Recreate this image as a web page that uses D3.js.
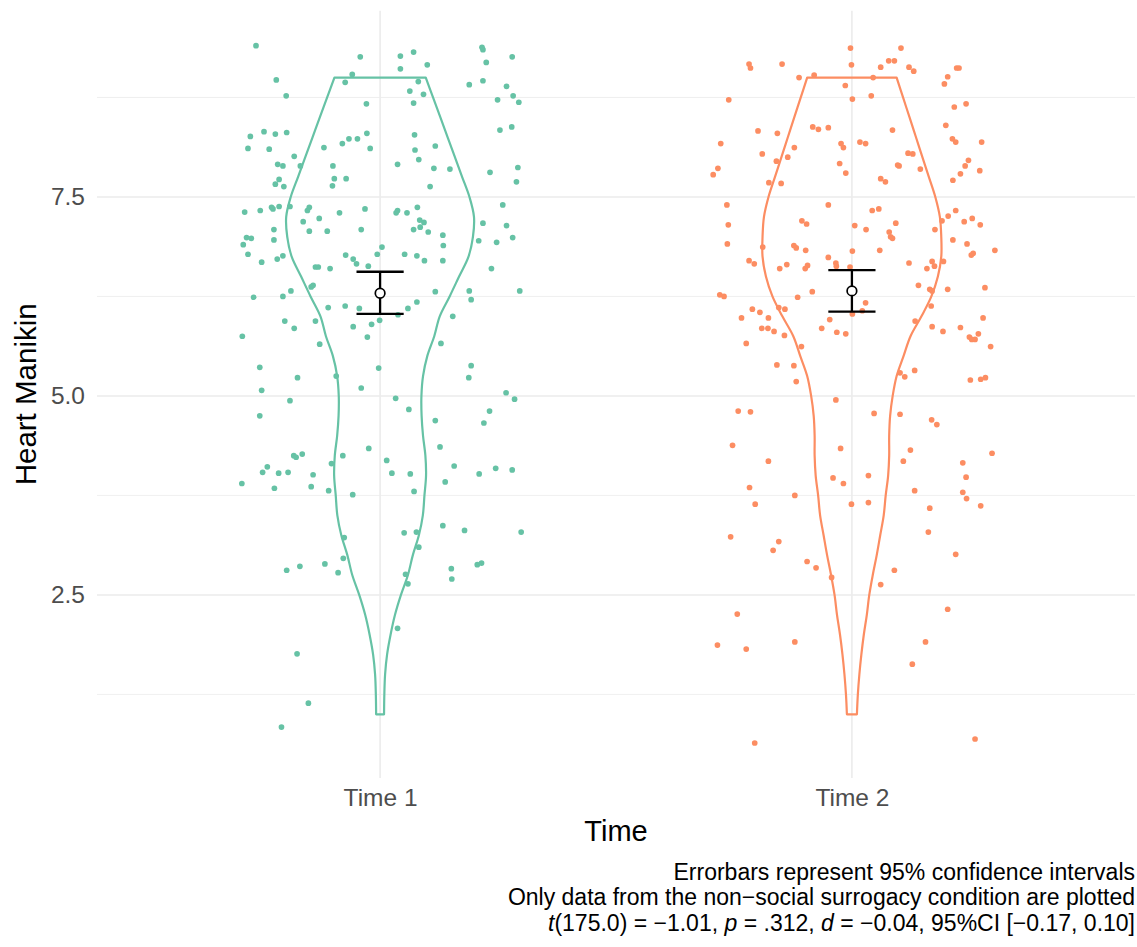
<!DOCTYPE html>
<html>
<head>
<meta charset="utf-8">
<script src="https://cdn.jsdelivr.net/npm/d3@7"></script>
<style>
  html, body { margin: 0; padding: 0; background: #fff; }
  svg { display: block; font-family: "Liberation Sans", Arial, Helvetica, sans-serif; }
</style>
</head>
<body>
<svg id="chart" width="1137" height="947"></svg>
<script>
// ---------------- data ----------------
const categories = ["Time 1", "Time 2"];
const yTicks = [2.5, 5.0, 7.5];
const yMinorTicks = [1.25, 3.75, 6.25, 8.75];
const groupColors = ["#66C2A5", "#FC8D62"];

// jittered points: values (Heart Manikin) and horizontal jitter (fraction of category step)
const time1Values = [9.40,9.26,9.27,9.32,9.16,9.11,9.38,9.35,9.26,9.19,8.97,9.04,8.94,8.95,8.91,8.96,8.89,8.77,8.72,8.69,8.77,8.67,8.83,8.79,8.68,8.26,8.32,8.29,8.31,8.11,8.10,8.12,8.17,8.23,8.23,8.30,8.11,8.28,8.09,8.14,8.38,8.34,8.01,7.91,7.89,7.89,7.89,7.91,7.97,7.86,7.85,7.81,7.87,7.72,7.66,7.63,7.73,7.73,7.64,7.63,7.69,7.31,7.33,7.37,7.35,7.38,7.38,7.37,7.33,7.19,7.23,7.30,7.35,7.33,7.30,7.30,7.37,7.21,7.18,7.12,7.09,7.06,7.02,6.89,6.70,7.40,7.17,7.14,6.99,6.93,6.95,6.60,7.09,6.96,7.07,7.07,7.09,6.99,6.98,6.90,6.78,6.68,6.72,6.76,6.62,6.62,6.60,6.77,6.72,6.66,6.63,6.78,6.87,6.78,6.76,6.70,
6.24,6.25,6.32,6.37,6.39,6.11,6.13,6.10,6.02,6.10,6.18,6.31,6.32,6.21,6.32,5.94,5.85,5.94,5.87,5.90,5.95,6.00,5.75,5.74,5.65,5.66,5.36,5.23,5.25,5.35,5.38,5.23,5.07,5.10,4.94,4.97,5.04,4.96,4.75,4.83,4.69,4.81,4.66,4.34,4.36,4.25,4.23,4.27,4.25,4.19,4.15,4.11,4.04,4.03,4.04,4.01,4.03,4.02,4.12,4.02,4.09,4.07,3.90,3.84,3.86,3.81,3.76,3.80,3.92,
3.22,3.28,3.29,3.37,3.31,3.29,3.10,2.81,2.86,2.89,2.96,2.78,2.76,2.64,2.83,2.70,2.88,2.90,2.08,1.76,1.14,0.84];
const time1Jitter = [-0.263,-0.042,0.043,0.071,0.100,0.043,0.216,0.218,0.280,0.225,-0.220,-0.059,-0.074,0.081,0.189,0.218,0.268,0.282,0.249,0.294,-0.199,-0.029,0.063,0.092,0.071,-0.275,-0.246,-0.222,-0.198,-0.280,-0.235,-0.119,-0.080,-0.066,-0.048,-0.028,-0.021,0.073,0.074,0.117,0.279,0.254,-0.182,-0.217,-0.206,-0.169,-0.100,0.037,0.082,0.114,0.148,0.233,0.292,-0.214,-0.222,-0.204,-0.097,-0.072,-0.101,0.106,0.289,-0.287,-0.254,-0.230,-0.227,-0.214,-0.191,-0.150,-0.154,-0.163,-0.129,-0.086,-0.032,0.037,0.034,0.057,0.079,0.084,0.093,0.085,0.071,0.102,0.133,0.134,0.133,0.260,0.218,0.268,0.281,0.247,0.209,0.236,-0.225,-0.225,-0.150,-0.112,-0.040,-0.283,-0.273,-0.290,-0.280,-0.251,-0.218,-0.206,-0.137,-0.131,-0.106,-0.073,-0.057,-0.050,-0.025,-0.006,0.004,0.052,0.078,0.094,
-0.268,-0.206,-0.189,-0.146,-0.142,-0.110,-0.074,-0.044,0.038,0.059,0.078,0.117,0.189,0.193,0.296,-0.202,-0.182,-0.137,-0.057,-0.018,-0.001,0.154,-0.292,-0.027,-0.128,0.129,-0.255,-0.175,-0.093,-0.003,0.193,0.188,-0.251,-0.040,-0.191,0.033,0.267,0.285,-0.255,0.061,0.117,0.232,0.220,-0.024,0.127,-0.183,-0.178,-0.165,-0.079,0.014,-0.103,-0.239,-0.249,-0.215,-0.195,-0.142,0.025,0.064,0.157,0.210,0.245,0.280,-0.293,-0.224,-0.146,-0.109,-0.058,0.072,0.138,
-0.076,0.051,0.077,0.133,0.179,0.299,0.082,-0.198,-0.170,-0.117,-0.078,-0.089,0.054,0.059,0.151,0.152,0.206,0.215,0.037,-0.176,-0.152,-0.209];

const time2Values = [9.37,9.37,9.17,9.12,9.17,9.16,9.13,9.21,9.21,9.13,9.08,9.12,9.12,9.01,8.92,9.00,9.03,9.00,8.90,8.73,8.77,8.72,8.63,8.67,8.40,8.33,8.30,8.38,8.35,8.37,8.34,8.17,8.12,8.17,8.12,8.19,8.17,8.23,8.19,8.19,8.04,8.00,7.95,7.92,8.05,8.04,7.86,7.78,7.68,7.67,7.80,7.90,7.89,7.85,7.73,7.69,7.96,7.89,7.79,7.83,7.71,7.40,7.15,6.91,7.40,7.33,7.35,7.20,7.16,7.14,7.09,7.17,7.06,7.00,6.98,7.09,7.20,7.26,7.33,7.19,7.23,7.15,6.96,6.91,6.79,6.77,6.83,6.87,6.89,6.86,6.83,6.74,6.82,6.83,6.70,6.66,6.60,6.65,6.60,6.64,6.67,6.63,6.62,6.67,6.60,6.69,6.63,6.69,
6.27,6.25,6.24,6.31,6.17,6.07,6.03,6.39,6.34,6.32,6.34,6.36,6.13,6.09,6.05,6.11,6.09,5.98,5.98,5.96,5.85,5.85,5.81,5.76,5.85,5.80,5.78,5.94,5.87,5.81,5.86,5.98,5.74,5.71,5.71,5.78,5.62,5.66,5.62,5.39,5.38,5.18,5.29,5.24,5.32,5.20,5.21,5.23,4.95,4.81,4.80,4.78,4.77,4.70,4.64,4.38,4.34,4.32,4.28,4.18,4.18,4.16,3.97,3.90,4.00,3.98,3.85,3.75,3.81,3.79,3.71,3.64,3.64,3.66,3.59,3.62,
3.23,3.17,3.06,2.92,2.84,2.72,3.29,3.01,2.81,2.63,2.26,1.87,1.82,1.91,2.32,1.91,1.63,0.64,0.69];
const time2Jitter = [-0.003,0.104,-0.218,-0.215,-0.148,-0.001,0.061,0.078,0.090,0.121,0.131,0.222,0.227,0.203,0.196,-0.112,-0.080,0.045,-0.014,0.001,0.041,-0.261,0.217,0.242,0.199,-0.199,-0.158,-0.083,-0.071,-0.050,0.086,-0.278,-0.122,-0.023,-0.018,0.017,0.029,0.213,0.220,0.275,-0.190,-0.136,-0.160,-0.026,0.119,0.129,-0.284,-0.294,-0.176,-0.150,-0.013,0.097,0.100,0.145,0.061,0.071,0.247,0.240,0.230,0.271,0.214,-0.265,-0.262,-0.264,-0.050,0.043,0.057,-0.106,-0.096,0.006,0.030,0.093,0.079,0.082,0.086,0.176,0.191,0.204,0.220,0.238,0.255,0.272,0.214,0.244,0.257,0.253,0.303,-0.189,-0.123,-0.118,-0.098,-0.050,0.001,0.059,-0.218,-0.207,-0.153,-0.138,-0.099,-0.094,-0.034,-0.033,-0.004,0.121,0.159,0.170,0.175,0.194,
-0.280,-0.271,-0.115,-0.084,0.029,0.022,0.001,0.141,0.165,0.170,0.203,0.282,0.168,-0.211,-0.195,-0.155,-0.142,-0.234,-0.177,-0.047,-0.191,-0.178,-0.165,-0.143,-0.064,-0.032,-0.013,0.134,0.170,0.193,0.230,0.278,0.249,0.254,0.261,0.268,0.294,-0.224,-0.107,-0.159,-0.123,-0.118,0.102,0.112,0.133,0.251,0.273,0.283,-0.034,-0.241,-0.215,0.047,0.102,0.169,0.180,-0.253,-0.024,0.124,0.297,-0.177,0.109,0.235,-0.040,-0.018,0.035,0.242,-0.217,-0.121,0.133,0.235,0.243,-0.205,-0.001,0.035,0.165,0.273,
-0.257,-0.155,-0.167,-0.095,-0.076,-0.043,0.162,0.220,0.090,0.061,-0.243,-0.285,-0.224,-0.121,0.203,0.156,0.128,-0.206,0.261];

// violin density profiles (relative, max = 1) at these levels
const violinLevels = [1.0,1.25,1.5,1.75,2.0,2.25,2.5,2.75,3.0,3.25,3.5,3.75,4.0,4.25,4.5,4.75,5.0,5.25,5.5,5.75,6.0,6.25,6.5,6.75,7.0,7.25,7.5,7.75,8.0,8.25,8.5,8.75,9.0];
const time1Density = [0.042,0.045,0.053,0.074,0.111,0.158,0.221,0.295,0.347,0.411,0.453,0.470,0.487,0.480,0.455,0.440,0.438,0.455,0.500,0.574,0.632,0.737,0.837,0.937,0.984,0.995,0.947,0.870,0.793,0.716,0.639,0.561,0.484];
const time2Density = [0.053,0.063,0.079,0.100,0.126,0.158,0.184,0.221,0.263,0.300,0.337,0.358,0.384,0.395,0.395,0.405,0.432,0.474,0.547,0.621,0.737,0.842,0.911,0.947,0.947,0.932,0.884,0.816,0.747,0.679,0.611,0.542,0.474];

// means and 95% confidence intervals
const means = [6.29, 6.32];
const ciLow = [6.03, 6.06];
const ciHigh = [6.56, 6.58];

const yLabel = "Heart Manikin";
const xLabel = "Time";
const captionLines = [
  "Errorbars represent 95% confidence intervals",
  "Only data from the non\u2212social surrogacy condition are plotted"
];
const statsLine = [
  {t: "t", i: true}, {t: "(175.0) = \u22121.01, "}, {t: "p", i: true}, {t: " = .312, "},
  {t: "d", i: true}, {t: " = \u22120.04, 95%CI [\u22120.17, 0.10]"}
];

// ---------------- layout ----------------
const W = 1137, H = 947;
const panel = {left: 97, right: 1135, top: 10.7, bottom: 778};
const violinWidth = 0.4;     // fraction of category step
const errorbarWidth = 0.1;
const pointRadius = 2.85;
const FONT = "'Liberation Sans', Arial, sans-serif";

const svg = d3.select("#chart");

const x = d3.scalePoint().domain(categories).range([panel.left, panel.right]).padding(0.6);
const step = x.step();
const y = d3.scaleLinear().domain([0.2, 9.84]).range([panel.bottom, panel.top]);

// grid
const grid = svg.append("g");
grid.selectAll("line.minor").data(yMinorTicks).enter().append("line")
  .attr("x1", panel.left).attr("x2", panel.right)
  .attr("y1", d => y(d)).attr("y2", d => y(d))
  .attr("stroke", "#EBEBEB").attr("stroke-width", 0.8);
grid.selectAll("line.major").data(yTicks).enter().append("line")
  .attr("x1", panel.left).attr("x2", panel.right)
  .attr("y1", d => y(d)).attr("y2", d => y(d))
  .attr("stroke", "#EBEBEB").attr("stroke-width", 1.6);
grid.selectAll("line.vmajor").data(categories).enter().append("line")
  .attr("x1", d => x(d)).attr("x2", d => x(d))
  .attr("y1", panel.top).attr("y2", panel.bottom)
  .attr("stroke", "#EBEBEB").attr("stroke-width", 1.6);

// violins
const densities = [time1Density, time2Density];
categories.forEach((cat, gi) => {
  const prof = violinLevels.map((v, i) => ({v, d: densities[gi][i]}));
  const half = violinWidth / 2 * step;
  const area = d3.area()
    .y(d => y(d.v))
    .x0(d => x(cat) - d.d * half)
    .x1(d => x(cat) + d.d * half)
    .curve(d3.curveCatmullRom);
  svg.append("path").datum(prof)
    .attr("d", area)
    .attr("fill", "none")
    .attr("stroke", groupColors[gi])
    .attr("stroke-width", 2.2)
    .attr("stroke-linejoin", "round");
});

// points
const valuesByGroup = [time1Values, time2Values];
const jitterByGroup = [time1Jitter, time2Jitter];
categories.forEach((cat, gi) => {
  const pts = valuesByGroup[gi].map((v, i) => ({v, j: jitterByGroup[gi][i]}));
  svg.append("g").selectAll("circle").data(pts).enter().append("circle")
    .attr("cx", d => x(cat) + d.j * step)
    .attr("cy", d => y(d.v))
    .attr("r", pointRadius)
    .attr("fill", groupColors[gi]);
});

// error bars
categories.forEach((cat, gi) => {
  const g = svg.append("g").attr("stroke", "#000").attr("stroke-width", 2.3);
  const cx = x(cat), hw = errorbarWidth / 2 * step;
  g.append("line").attr("x1", cx).attr("x2", cx).attr("y1", y(ciLow[gi])).attr("y2", y(ciHigh[gi]));
  g.append("line").attr("x1", cx - hw).attr("x2", cx + hw).attr("y1", y(ciLow[gi])).attr("y2", y(ciLow[gi]));
  g.append("line").attr("x1", cx - hw).attr("x2", cx + hw).attr("y1", y(ciHigh[gi])).attr("y2", y(ciHigh[gi]));
  svg.append("circle").attr("cx", cx).attr("cy", y(means[gi])).attr("r", 4.8)
    .attr("fill", "#fff").attr("stroke", "#000").attr("stroke-width", 1.7);
});

// axes (no lines, theme_minimal)
const yAxis = d3.axisLeft(y).tickValues(yTicks).tickFormat(d3.format(".1f")).tickSize(0).tickPadding(12);
const yg = svg.append("g").attr("transform", `translate(${panel.left},0)`).call(yAxis);
yg.select(".domain").remove();
yg.selectAll("text").attr("fill", "#4D4D4D").attr("font-size", 24.5).attr("font-family", FONT);

const xAxis = d3.axisBottom(x).tickSize(0).tickPadding(11);
const xg = svg.append("g").attr("transform", `translate(0,${panel.bottom})`).call(xAxis);
xg.select(".domain").remove();
xg.selectAll("text").attr("fill", "#4D4D4D").attr("font-size", 24.5).attr("font-family", FONT);

// titles
svg.append("text").attr("x", (panel.left + panel.right) / 2).attr("y", 831)
  .attr("text-anchor", "middle").attr("dominant-baseline", "central")
  .attr("font-size", 29).attr("fill", "#000").attr("font-family", FONT).text(xLabel);
svg.append("text").attr("transform", `translate(25,${(panel.top + panel.bottom) / 2}) rotate(-90)`)
  .attr("text-anchor", "middle").attr("dominant-baseline", "central")
  .attr("font-size", 29.5).attr("fill", "#000").attr("font-family", FONT).text(yLabel);

// caption
const capFont = 23;
const capY = [871.5, 897.3];
captionLines.forEach((t, i) => {
  svg.append("text").attr("x", 1135).attr("y", capY[i])
    .attr("text-anchor", "end").attr("dominant-baseline", "central")
    .attr("font-size", capFont).attr("fill", "#000").attr("font-family", FONT).text(t);
});
const st = svg.append("text").attr("x", 1135).attr("y", 923.1)
  .attr("text-anchor", "end").attr("dominant-baseline", "central")
  .attr("font-size", capFont).attr("fill", "#000").attr("font-family", FONT);
statsLine.forEach(s => {
  st.append("tspan").attr("font-style", s.i ? "italic" : "normal").text(s.t);
});
</script>
</body>
</html>
